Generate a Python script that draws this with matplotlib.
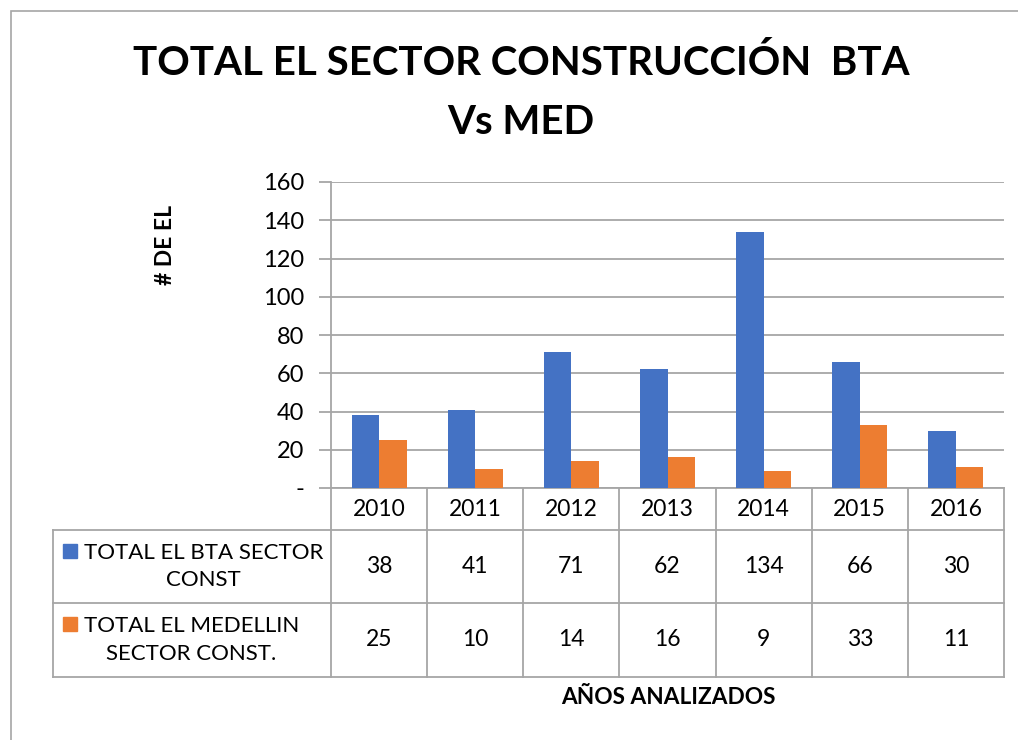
import numpy as np
import matplotlib
matplotlib.use("Agg")
import matplotlib.pyplot as plt
import matplotlib.transforms as mtransforms
from matplotlib.patches import Rectangle

years = ["2010", "2011", "2012", "2013", "2014", "2015", "2016"]
bta = [38, 41, 71, 62, 134, 66, 30]
med = [25, 10, 14, 16, 9, 33, 11]
series_names = ["TOTAL EL BTA SECTOR\nCONST", "TOTAL EL MEDELLIN\nSECTOR CONST."]
yticks = [0, 20, 40, 60, 80, 100, 120, 140, 160]
ytick_labels = ["-", "20", "40", "60", "80", "100", "120", "140", "160"]

blue = "#4472C4"
orange = "#ED7D31"
grey = "#A6A6A6"
font = "Lato"

W, H = 1018, 740
fig = plt.figure(figsize=(W / 100, H / 100), dpi=100)
plt.rcParams["font.family"] = [font, "DejaVu Sans"]

def fy(y):
    return 1 - y / H

# outer chart border
fig.patches.append(Rectangle((11 / W, -0.1), 1.2, fy(11) + 0.1, transform=fig.transFigure,
                             fill=False, edgecolor=grey, lw=1.2))

ax = fig.add_axes([331 / W, fy(488), (1004 - 331) / W, (488 - 182) / H])
x = np.arange(len(years))
w = 0.286
ax.bar(x - w / 2, bta, w, color=blue, zorder=3)
ax.bar(x + w / 2, med, w, color=orange, zorder=3)
ax.set_xlim(-0.5, len(years) - 0.5)
ax.set_ylim(0, 160)
ax.set_yticks(yticks)
ax.set_yticklabels(ytick_labels, fontsize=17)
ax.set_xticks([])
ax.yaxis.grid(True, color=grey, lw=1.3, zorder=0)
ax.tick_params(axis="y", length=9, width=1.3, color=grey, pad=10)
for s in ["top", "right"]:
    ax.spines[s].set_visible(False)
for s in ["left", "bottom"]:
    ax.spines[s].set_color(grey)
    ax.spines[s].set_linewidth(1.3)

fig.text(521 / W, fy(63), "TOTAL EL SECTOR CONSTRUCCIÓN  BTA", ha="center", va="center",
         fontsize=29, fontweight="bold")
fig.text(521 / W, fy(123), "Vs MED", ha="center", va="center", fontsize=29, fontweight="bold")
fig.text(166 / W, fy(245), "# DE EL", ha="center", va="center", rotation=90,
         fontsize=16.5, fontweight="bold")
fig.text(668 / W, fy(698), "AÑOS ANALIZADOS", ha="center", va="center",
         fontsize=16.3, fontweight="bold")

# data table
tr = mtransforms.blended_transform_factory(ax.transData, fig.transFigure)
top, r1, r2, bot = 488, 530, 603, 677
for i in range(len(years) + 1):
    fig.add_artist(plt.Line2D([i - 0.5, i - 0.5], [fy(top), fy(bot)], transform=tr,
                              color=grey, lw=1.3))
for yy in [r1, r2, bot]:
    fig.add_artist(plt.Line2D([53 / W, 1004 / W], [fy(yy), fy(yy)], transform=fig.transFigure,
                              color=grey, lw=1.3))
fig.add_artist(plt.Line2D([53 / W, 53 / W], [fy(r1), fy(bot)], transform=fig.transFigure,
                          color=grey, lw=1.3))

for i, yr in enumerate(years):
    fig.text(i, fy((top + r1) / 2), yr, transform=tr, ha="center", va="center", fontsize=16.5)
    fig.text(i, fy((r1 + r2) / 2), str(bta[i]), transform=tr, ha="center", va="center", fontsize=16.5)
    fig.text(i, fy((r2 + bot) / 2), str(med[i]), transform=tr, ha="center", va="center", fontsize=16.5)

for (y0, y1), name, col in zip([(r1, r2), (r2, bot)], series_names, [blue, orange]):
    yc = (y0 + y1) / 2
    fig.text(84 / W, fy(yc), name, ha="left", va="center", fontsize=16,
             multialignment="center", linespacing=1.45)
    fig.patches.append(Rectangle((63 / W, fy(yc - 9)), 14 / W, 14 / H,
                                 transform=fig.transFigure, color=col))

fig.savefig("out.png", dpi=100)
